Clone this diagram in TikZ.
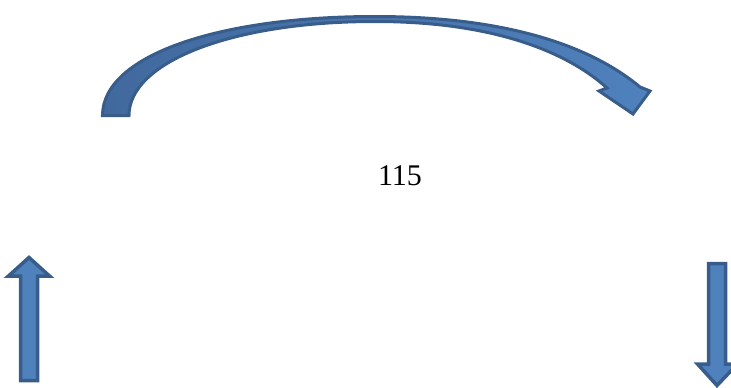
\documentclass[tikz,border=0pt]{standalone}
\usepackage{fontspec}
\setmainfont{Liberation Serif}
\definecolor{arrowfill}{HTML}{4F81BD}
\definecolor{arrowdark}{HTML}{41699E}
\definecolor{arrowedge}{HTML}{385D8A}
\begin{document}
\begin{tikzpicture}[x=1pt,y=-1pt,
  blockarrow/.style={fill=arrowfill,draw=arrowedge,line width=3.5pt,line join=miter},
  curvedarrow/.style={left color=arrowdark,right color=arrowfill,draw=arrowedge,line width=3pt,line join=miter},
  label/.style={font=\fontsize{30}{35}\selectfont,inner sep=0pt}]
\useasboundingbox (0,0) rectangle (731,388);
\clip (0,0) rectangle (731,388);
% curved arrow
\draw[curvedarrow]
  (102.5,115.5) .. controls (102.5,55) and (220,16.5) .. (375,16.5)
  .. controls (520,16.5) and (598,52) .. (640,87)
  -- (650,91) -- (633,114) -- (599,91) -- (607,88)
  .. controls (574,58) and (505,21.5) .. (375,21.5)
  .. controls (232,21.5) and (129,62) .. (129,115.5) -- cycle;
% label
\node[label] (n115) at (400,176) {115};
% left up arrow
\draw[blockarrow] (20.5,380.5) -- (20.5,276) -- (8.5,276) -- (29,257.5)
  -- (49.5,276) -- (37.5,276) -- (37.5,380.5) -- cycle;
% right down arrow
\draw[blockarrow] (708.5,263.5) -- (725.5,263.5) -- (725.5,364) -- (737.5,364)
  -- (717,385.5) -- (697.5,364) -- (708.5,364) -- cycle;
\end{tikzpicture}
\end{document}
